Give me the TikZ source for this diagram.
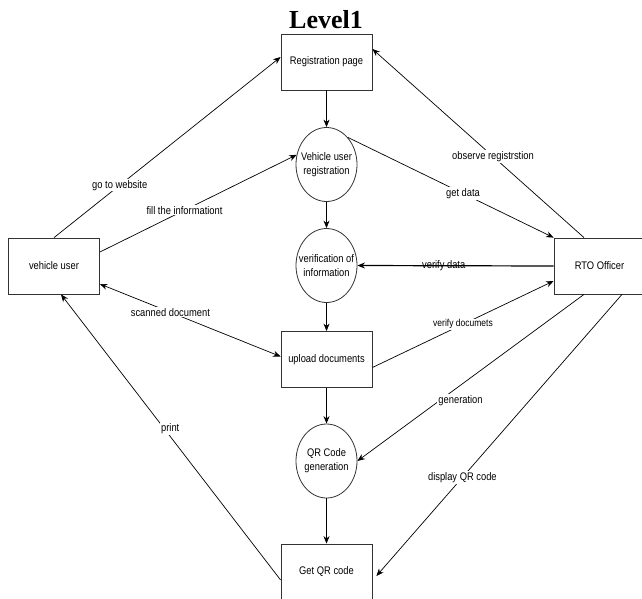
\documentclass[tikz,border=0pt]{standalone}
\usepackage{fontspec}
\setmainfont{Liberation Sans}[FakeStretch=0.85]
\newfontfamily\titlefont{Liberation Serif}
\usetikzlibrary{arrows.meta,shapes.geometric,positioning}

\begin{document}
\begin{tikzpicture}[x=1pt,y=-1pt,
  font=\fontsize{11}{14}\selectfont,
  flow/.style={-{Stealth[length=7.5pt,width=6pt]},draw=black,line width=.7pt},
  entity/.style={draw=black!80,line width=.8pt,minimum width=91pt,minimum height=56pt,
    inner sep=0pt,align=center},
  process/.style={ellipse,draw=black!80,line width=.8pt,minimum width=61pt,
    minimum height=74pt,inner xsep=-6pt,inner ysep=0pt,align=center},
  lbl/.style={fill=white,inner sep=1pt}
]
\useasboundingbox (0,0) rectangle (642,598);
% Title and the central chain of pages and processes.
\node[font=\titlefont\bfseries\fontsize{26}{28}\selectfont] (title) at (326,20) {Level1};
\node[entity] (reg) at (326.5,62) {Registration page};
\node[process] (vur) at (326.5,164.5) {Vehicle user\\registration};
\node[process] (ver) at (326.5,265.5) {verification of\\information};
\node[entity] (upl) at (326.5,359.5) {upload documents};
\node[process] (qrg) at (326.5,461) {QR Code\\generation};
\node[entity] (get) at (326.5,572) {Get QR code};
% The two external entities.
\node[entity] (vu) at (54,266) {vehicle user};
\node[entity] (rto) at (599.5,266) {RTO Officer};
\draw[flow] (reg.south) -- (vur.north);
\draw[flow] (vur.south) -- (ver.north);
\draw[flow] (ver.south) -- (upl.north);
\draw[flow] (upl.south) -- (qrg.north);
\draw[flow] (qrg.south) -- (get.north);
% Flows of the vehicle user.
\draw[flow] (vu.north) -- ([yshift=5pt]reg.west)
  node[lbl,pos=.29] {go to website};
\draw[flow] ([yshift=14pt]vu.east) -- (vur.162)
  node[lbl,pos=.43] {fill the informationt};
\draw[flow,{Stealth[length=7.5pt,width=6pt]}-{Stealth[length=7.5pt,width=6pt]}]
  ([yshift=-18pt]vu.east) -- ([yshift=3pt]upl.west)
  node[lbl,pos=.39] {scanned document};
\draw[flow] ([yshift=-8pt]get.west) -- ([xshift=7pt]vu.south)
  node[lbl,pos=.53,xshift=6pt] {print};
% Flows of the RTO officer.
\draw[flow] (vur.52) -- (rto.north west)
  node[lbl,pos=.56] {get data};
\draw[flow] ([xshift=-15.5pt]rto.north) -- ([yshift=13pt]reg.east)
  node[lbl,pos=.43] {observe registrstion};
\draw[flow,line width=1.2pt] (rto.west) -- (ver.east)
  node[pos=.56,inner sep=1pt] {verify data};
\draw[flow] ([yshift=-8pt]upl.east) -- ([yshift=-15pt]rto.west)
  node[lbl,pos=.5,font=\fontsize{10}{12}\selectfont] {verify documets};
\draw[flow] ([xshift=-15.5pt]rto.south) -- (qrg.east)
  node[lbl,pos=.635,anchor=west,xshift=-3pt] {generation};
\draw[flow] ([xshift=22.5pt]rto.south) -- ([shift={(4pt,-4pt)}]get.east)
  node[lbl,pos=.65] {display QR code};
\end{tikzpicture}
\end{document}
